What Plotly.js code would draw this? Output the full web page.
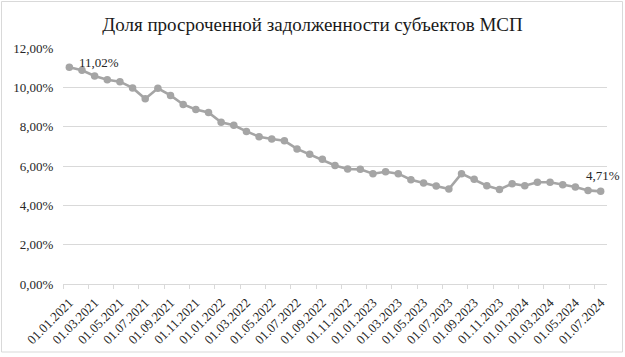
<!DOCTYPE html>
<html>
<head>
<meta charset="utf-8">
<script src="https://cdn.plot.ly/plotly-3.0.1.min.js"></script>
<style>html,body{margin:0;padding:0;background:#fff;}#chart{width:625px;height:357px;}</style>
</head>
<body>
<div id="chart"></div>
<script>
const categories = [
  "01.01.2021","01.02.2021","01.03.2021","01.04.2021","01.05.2021","01.06.2021",
  "01.07.2021","01.08.2021","01.09.2021","01.10.2021","01.11.2021","01.12.2021",
  "01.01.2022","01.02.2022","01.03.2022","01.04.2022","01.05.2022","01.06.2022",
  "01.07.2022","01.08.2022","01.09.2022","01.10.2022","01.11.2022","01.12.2022",
  "01.01.2023","01.02.2023","01.03.2023","01.04.2023","01.05.2023","01.06.2023",
  "01.07.2023","01.08.2023","01.09.2023","01.10.2023","01.11.2023","01.12.2023",
  "01.01.2024","01.02.2024","01.03.2024","01.04.2024","01.05.2024","01.06.2024",
  "01.07.2024"
];
const shareValues = [
  11.02, 10.87, 10.58, 10.39, 10.29, 9.97,
  9.42, 9.95, 9.59, 9.13, 8.87, 8.72,
  8.22, 8.07, 7.76, 7.49, 7.37, 7.28,
  6.87, 6.60, 6.34, 6.03, 5.85, 5.83,
  5.61, 5.71, 5.61, 5.30, 5.13, 4.98,
  4.83, 5.61, 5.32, 5.00, 4.81, 5.10,
  5.00, 5.17, 5.17, 5.05, 4.93, 4.76,
  4.71
];
const yTicks = [0, 2, 4, 6, 8, 10, 12];
const titleText = "Доля просроченной задолженности субъектов МСП";

const idx = categories.map((c, i) => i);
const labelIdx = idx.filter(i => i % 2 === 0);
const boundaryTicks = labelIdx.map(i => i - 0.5);
const fmt = v => v.toFixed(2).replace('.', ',') + '%';
const last = shareValues.length - 1;
const serif = "'Liberation Serif', 'Times New Roman', serif";
const gray = '#a5a5a5';
const grid = '#d9d9d9';

const traces = [
  {
    x: idx, y: shareValues, type: 'scatter', mode: 'lines+markers',
    line: {color: gray, width: 2.6}, marker: {color: gray, size: 7.5},
    showlegend: false, hoverinfo: 'skip'
  },
  {
    x: [null], y: [null], xaxis: 'x2', yaxis: 'y', type: 'scatter', mode: 'markers',
    showlegend: false, hoverinfo: 'skip'
  }
];

const xr = [-0.5, categories.length - 0.5];
const W = 625, H = 357, ml = 63, mr = 18, mt = 48, mb = 73;
const pw = W - ml - mr, ph = H - mt - mb;

const layout = {
  width: W, height: H,
  margin: {l: ml, r: mr, t: mt, b: mb, pad: 0},
  paper_bgcolor: '#fff', plot_bgcolor: '#fff',
  separators: ', ',
  font: {family: serif, color: '#262626', size: 13},
  title: {
    text: titleText, font: {family: serif, size: 19, color: '#1a1a1a'},
    x: 0.5, xanchor: 'center', xref: 'container',
    y: 1 - 24 / H, yanchor: 'middle', yref: 'container'
  },
  xaxis: {
    range: xr, tickmode: 'array', tickvals: labelIdx,
    ticktext: labelIdx.map(i => categories[i]),
    tickangle: -45, ticks: 'outside', ticklen: 5, tickcolor: 'rgba(0,0,0,0)',
    showgrid: false, zeroline: false, showline: true, linecolor: grid, linewidth: 1,
    tickfont: {family: serif, size: 13, color: '#262626'}, fixedrange: true
  },
  xaxis2: {
    range: xr, overlaying: 'x', anchor: 'y', side: 'bottom',
    tickmode: 'array', tickvals: boundaryTicks, ticks: 'outside', ticklen: 4,
    tickcolor: grid, tickwidth: 1, showticklabels: false, showgrid: false,
    zeroline: false, showline: false, fixedrange: true
  },
  yaxis: {
    range: [0, 12], tickmode: 'array', tickvals: yTicks,
    ticktext: yTicks.map(fmt),
    showgrid: true, gridcolor: grid, gridwidth: 1, zeroline: false, showline: false,
    ticks: 'outside', ticklen: 6, tickcolor: 'rgba(0,0,0,0)',
    tickfont: {family: serif, size: 13, color: '#262626'}, fixedrange: true
  },
  annotations: [
    {
      x: 0, y: shareValues[0], xref: 'x', yref: 'y', text: fmt(shareValues[0]),
      showarrow: false, xanchor: 'left', yanchor: 'middle', xshift: 8, yshift: 5,
      font: {family: serif, size: 13, color: '#262626'}
    },
    {
      x: last, y: shareValues[last], xref: 'x', yref: 'y', text: fmt(shareValues[last]),
      showarrow: false, xanchor: 'center', yanchor: 'bottom', xshift: 2, yshift: 6,
      font: {family: serif, size: 13, color: '#262626'}
    }
  ],
  shapes: [
    {
      type: 'rect', xref: 'paper', yref: 'paper',
      x0: (1.5 - ml) / pw, x1: (622.5 - ml) / pw,
      y0: (H - mb - 352) / ph, y1: (H - mb - 1.5) / ph,
      line: {color: grid, width: 1}, fillcolor: 'rgba(0,0,0,0)', layer: 'below'
    }
  ]
};

Plotly.newPlot('chart', traces, layout, {staticPlot: true, displayModeBar: false});
</script>
</body>
</html>
